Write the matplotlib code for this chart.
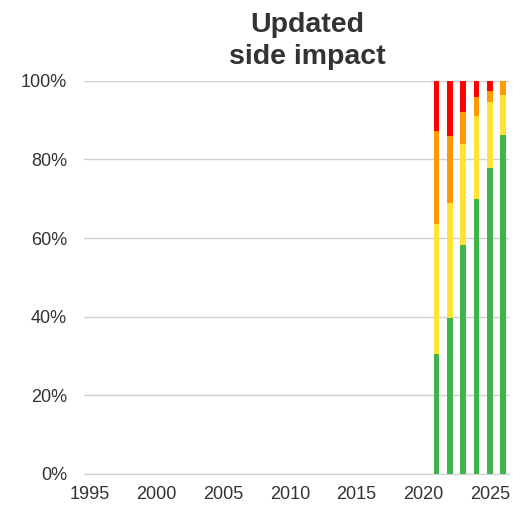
import numpy as np
import matplotlib
matplotlib.use("Agg")
from matplotlib import pyplot as plt
from matplotlib.ticker import PercentFormatter

plt.rcParams["font.family"] = ["Liberation Sans", "DejaVu Sans"]

years = [2021, 2022, 2023, 2024, 2025, 2026]
# share of ratings per year, in percent
green = [30.5, 39.7, 58.2, 70.0, 77.7, 86.2]
yellow = [33.2, 29.1, 25.7, 21.0, 16.8, 10.3]
orange = [23.6, 17.1, 8.2, 4.9, 3.0, 3.5]
red = [12.7, 14.1, 7.9, 4.1, 2.5, 0.0]

series = [
    (green, "#3db54a"),
    (yellow, "#ffe433"),
    (orange, "#ff9a00"),
    (red, "#ff0000"),
]

fig = plt.figure(figsize=(5.27, 5.08), dpi=100)
ax = fig.add_axes([0.159, 0.067, 0.807, 0.774])

bottom = np.zeros(len(years))
for values, colour in series:
    ax.bar(years, values, width=0.42, bottom=bottom, color=colour, zorder=3)
    bottom += np.array(values)

ax.set_xlim(1994.55, 2026.45)
ax.set_ylim(0, 100)
ax.set_xticks(range(1995, 2026, 5))
ax.set_yticks(range(0, 101, 20))
ax.yaxis.set_major_formatter(PercentFormatter(decimals=0))
ax.tick_params(axis="both", length=0, labelsize=13, colors="#333333")
ax.tick_params(axis="x", pad=9)
ax.tick_params(axis="y", pad=12)
ax.grid(axis="y", color="#d0d0d0", linewidth=1, zorder=0)
for side in ["top", "right", "left"]:
    ax.spines[side].set_visible(False)
ax.spines["bottom"].set_color("#d0d0d0")

ax.set_title("Updated\nside impact", fontsize=20.5, fontweight="bold",
             color="#333333", linespacing=1.3, pad=12, x=0.525)

fig.savefig("out.png", dpi=100)
plt.close(fig)
